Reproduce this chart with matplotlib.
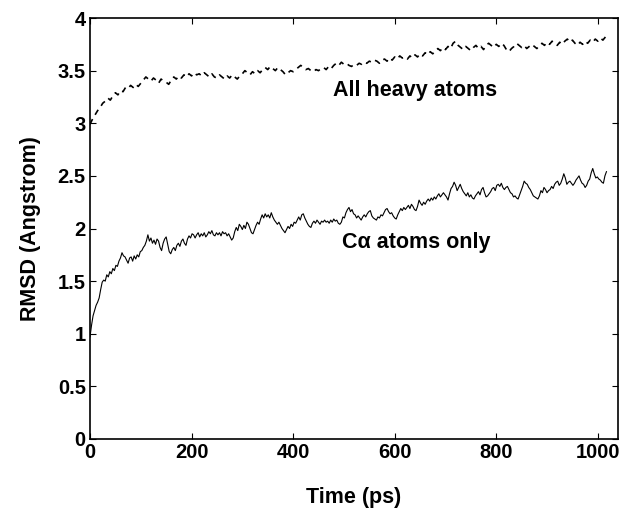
import numpy as np
import matplotlib
matplotlib.use('Agg')
from matplotlib import pyplot as plt

# RMSD of C-alpha atoms, sampled every 3 ps
ca_step = 3
ca_rmsd = [0.97, 1.08, 1.17, 1.22, 1.27, 1.30, 1.34, 1.42, 1.49, 1.51, 1.50, 1.56, 1.54, 1.59, 1.57, 1.62,
           1.60, 1.65, 1.64, 1.69, 1.72, 1.77, 1.74, 1.73, 1.70, 1.67, 1.72, 1.73, 1.69, 1.74, 1.71, 1.75,
           1.73, 1.78, 1.79, 1.82, 1.84, 1.88, 1.94, 1.88, 1.91, 1.86, 1.89, 1.85, 1.90, 1.88, 1.82, 1.79,
           1.86, 1.90, 1.92, 1.85, 1.78, 1.76, 1.80, 1.82, 1.79, 1.84, 1.86, 1.83, 1.88, 1.90, 1.86, 1.84,
           1.90, 1.93, 1.91, 1.95, 1.94, 1.91, 1.94, 1.96, 1.92, 1.95, 1.93, 1.96, 1.92, 1.94, 1.97, 1.95,
           1.98, 1.94, 1.93, 1.96, 1.94, 1.96, 1.93, 1.97, 1.95, 1.96, 1.93, 1.95, 1.92, 1.89, 1.91, 1.97,
           2.01, 1.98, 2.04, 2.02, 1.99, 2.03, 2.00, 2.06, 2.04, 2.00, 1.96, 1.95, 1.99, 2.03, 2.06, 2.04,
           2.09, 2.13, 2.10, 2.14, 2.11, 2.13, 2.10, 2.15, 2.11, 2.08, 2.06, 2.04, 2.06, 2.03, 2.00, 1.98,
           1.96, 1.99, 2.02, 2.00, 2.04, 2.02, 2.06, 2.05, 2.08, 2.11, 2.08, 2.13, 2.14, 2.10, 2.07, 2.04,
           2.02, 2.01, 2.05, 2.07, 2.05, 2.08, 2.06, 2.04, 2.07, 2.06, 2.08, 2.06, 2.07, 2.05, 2.08, 2.06,
           2.09, 2.07, 2.08, 2.05, 2.04, 2.06, 2.11, 2.10, 2.15, 2.18, 2.20, 2.16, 2.18, 2.14, 2.13, 2.10,
           2.12, 2.10, 2.08, 2.11, 2.13, 2.11, 2.14, 2.16, 2.17, 2.12, 2.10, 2.09, 2.08, 2.11, 2.10, 2.13,
           2.12, 2.15, 2.18, 2.19, 2.16, 2.14, 2.15, 2.12, 2.10, 2.09, 2.13, 2.16, 2.19, 2.17, 2.20, 2.18,
           2.20, 2.22, 2.19, 2.23, 2.21, 2.18, 2.17, 2.21, 2.27, 2.24, 2.22, 2.25, 2.23, 2.26, 2.28, 2.26,
           2.29, 2.27, 2.30, 2.28, 2.31, 2.33, 2.30, 2.32, 2.34, 2.32, 2.30, 2.27, 2.33, 2.38, 2.40, 2.44,
           2.41, 2.36, 2.39, 2.42, 2.38, 2.35, 2.33, 2.31, 2.34, 2.30, 2.32, 2.29, 2.28, 2.31, 2.33, 2.35,
           2.32, 2.37, 2.39, 2.34, 2.30, 2.31, 2.33, 2.35, 2.38, 2.39, 2.36, 2.41, 2.42, 2.40, 2.43, 2.39,
           2.37, 2.39, 2.40, 2.37, 2.34, 2.33, 2.30, 2.31, 2.29, 2.28, 2.32, 2.36, 2.40, 2.45, 2.43, 2.42,
           2.39, 2.37, 2.34, 2.31, 2.30, 2.29, 2.28, 2.31, 2.36, 2.34, 2.39, 2.37, 2.34, 2.36, 2.37, 2.40,
           2.38, 2.42, 2.44, 2.45, 2.41, 2.43, 2.47, 2.52, 2.48, 2.42, 2.44, 2.45, 2.43, 2.41, 2.43, 2.46,
           2.48, 2.50, 2.46, 2.43, 2.42, 2.39, 2.41, 2.45, 2.47, 2.53, 2.57, 2.52, 2.48, 2.49, 2.47, 2.46,
           2.44, 2.43, 2.50, 2.54]

# RMSD of all heavy atoms, sampled every 5 ps
heavy_step = 5
heavy_rmsd = [2.99, 3.04, 3.08, 3.12, 3.15, 3.19, 3.21, 3.24, 3.22, 3.26, 3.29, 3.27, 3.31, 3.30, 3.34, 3.33,
              3.36, 3.34, 3.37, 3.35, 3.38, 3.41, 3.44, 3.42, 3.40, 3.43, 3.41, 3.38, 3.42, 3.40, 3.39, 3.37,
              3.41, 3.44, 3.42, 3.45, 3.43, 3.46, 3.44, 3.47, 3.45, 3.48, 3.46, 3.47, 3.45, 3.48, 3.46, 3.44,
              3.47, 3.44, 3.43, 3.46, 3.44, 3.42, 3.45, 3.43, 3.46, 3.44, 3.42, 3.45, 3.47, 3.50, 3.48, 3.46,
              3.49, 3.47, 3.50, 3.48, 3.51, 3.53, 3.51, 3.54, 3.52, 3.50, 3.53, 3.51, 3.49, 3.46, 3.48, 3.50,
              3.49, 3.51, 3.53, 3.55, 3.53, 3.51, 3.52, 3.50, 3.49, 3.51, 3.50, 3.52, 3.53, 3.51, 3.54, 3.52,
              3.55, 3.57, 3.55, 3.58, 3.56, 3.57, 3.55, 3.54, 3.56, 3.55, 3.57, 3.56, 3.58, 3.57, 3.59, 3.58,
              3.60, 3.59, 3.57, 3.60, 3.61, 3.59, 3.62, 3.60, 3.63, 3.61, 3.64, 3.62, 3.63, 3.61, 3.64, 3.62,
              3.65, 3.63, 3.66, 3.64, 3.67, 3.65, 3.68, 3.66, 3.69, 3.71, 3.69, 3.72, 3.70, 3.73, 3.71, 3.76,
              3.78, 3.74, 3.72, 3.70, 3.73, 3.71, 3.69, 3.72, 3.74, 3.71, 3.73, 3.70, 3.74, 3.76, 3.74, 3.72,
              3.75, 3.73, 3.76, 3.74, 3.70, 3.68, 3.71, 3.73, 3.76, 3.74, 3.72, 3.74, 3.71, 3.73, 3.75, 3.73,
              3.71, 3.74, 3.76, 3.74, 3.77, 3.75, 3.78, 3.76, 3.74, 3.77, 3.75, 3.78, 3.80, 3.77, 3.79, 3.76,
              3.74, 3.77, 3.75, 3.78, 3.76, 3.79, 3.77, 3.80, 3.78, 3.81, 3.79, 3.82, 3.80]

xticks = [0, 200, 400, 600, 800, 1000]
yticks = [0, 0.5, 1, 1.5, 2, 2.5, 3, 3.5, 4]
ytick_labels = ['0', '0.5', '1', '1.5', '2', '2.5', '3', '3.5', '4']

plt.rcParams['font.family'] = ['Liberation Sans', 'DejaVu Sans']
plt.rcParams['font.weight'] = 'bold'

t_ca = np.arange(len(ca_rmsd)) * ca_step
t_heavy = np.arange(len(heavy_rmsd)) * heavy_step

fig = plt.figure(figsize=(6.25, 5.12), dpi=100)
ax = fig.add_axes([0.144, 0.1426, 0.845, 0.8222])

ax.plot(t_heavy, heavy_rmsd, color='black', lw=1.2, dashes=(3.5, 3))
ax.plot(t_ca, ca_rmsd, color='black', lw=0.8)

ax.text(478, 3.31, 'All heavy atoms', fontsize=15.5, fontweight='bold', va='center')
ax.text(497, 1.87, 'C\u03b1 atoms only', fontsize=15.5, fontweight='bold', va='center')

ax.set_xlim(0, 1040)
ax.set_ylim(0, 4)
ax.set_xticks(xticks)
ax.set_yticks(yticks)
ax.set_yticklabels(ytick_labels)
ax.tick_params(direction='in', top=True, right=True, length=4, width=0.8,
               labelsize=14.5, pad=3)
for lab in ax.get_xticklabels() + ax.get_yticklabels():
    lab.set_fontweight('bold')
for s in ax.spines.values():
    s.set_linewidth(1.2)

ax.set_xlabel('Time (ps)', fontsize=15.5, fontweight='bold', labelpad=18)
ax.set_ylabel('RMSD (Angstrom)', fontsize=15.5, fontweight='bold', labelpad=12)

fig.savefig('out.png', dpi=100)
